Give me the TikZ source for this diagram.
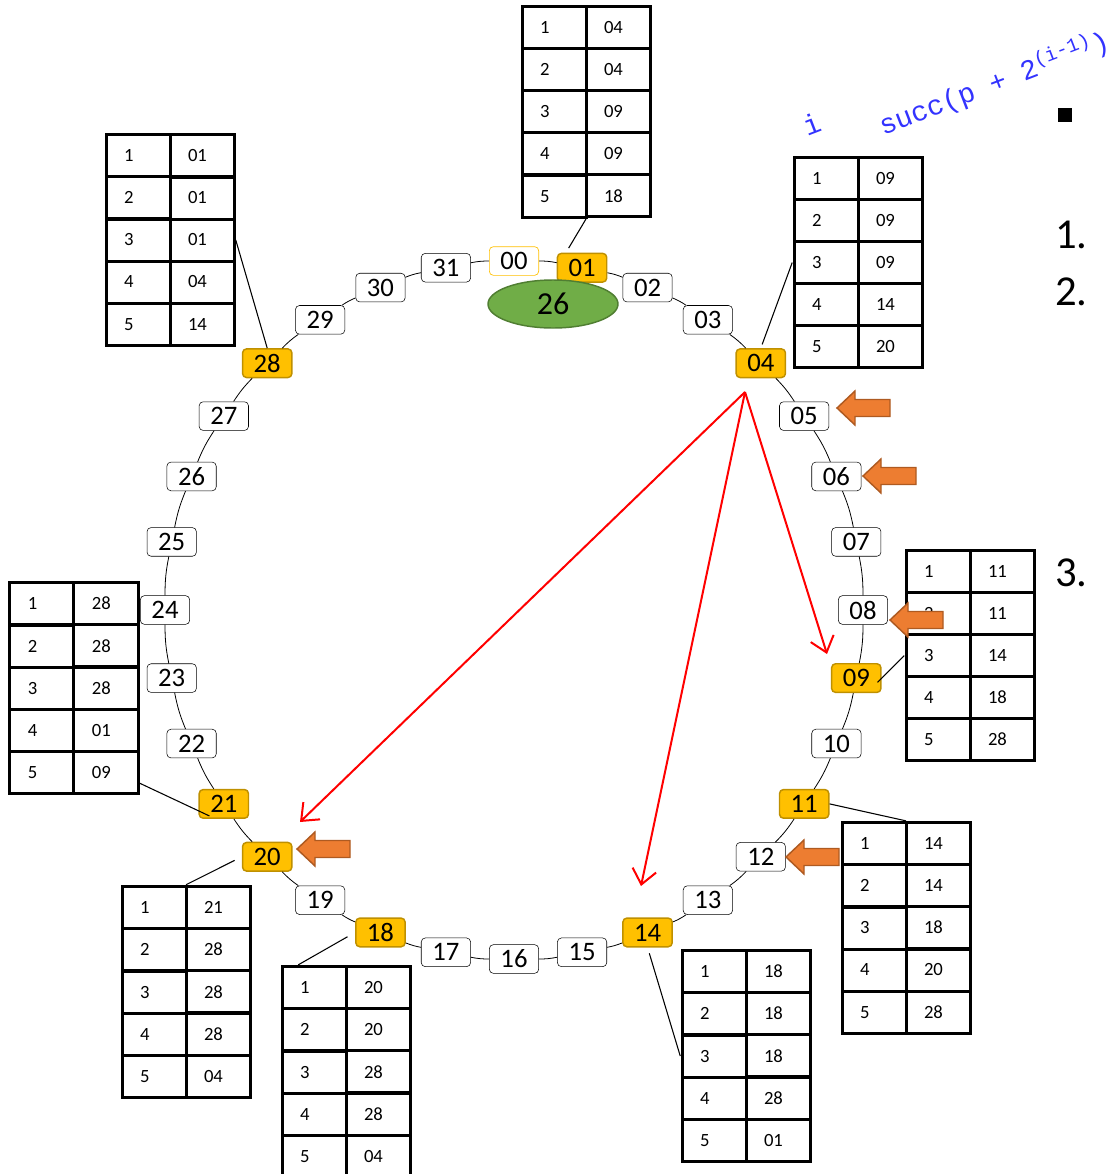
\documentclass[tikz,border=0pt]{standalone}
\usepackage{fontspec}
\setmainfont{Carlito}
\setmonofont{Liberation Mono}
\usetikzlibrary{matrix,calc,arrows.meta,shapes.geometric}

\definecolor{gold}{HTML}{FFC000}
\definecolor{golddark}{HTML}{BF9000}
\definecolor{leaf}{HTML}{70AD47}
\definecolor{leafdark}{HTML}{507E32}
\definecolor{hintfill}{HTML}{ED7D31}
\definecolor{hintdraw}{HTML}{AE5A21}
\definecolor{ink}{RGB}{51,51,255}

\tikzset{
	peer/.style={draw, fill=white, rounded corners=3pt, minimum width=37pt, minimum height=21.5pt,
		inner sep=1pt, font=\fontsize{20}{20}\selectfont},
	member/.style={peer, fill=gold, draw=golddark, line width=1.1pt},
	zero/.style={peer, draw=gold, line width=.5pt},
	% peers that hold a finger table
	id0/.style=zero, id1/.style=member, id4/.style=member, id9/.style=member,
	id11/.style=member, id14/.style=member, id18/.style=member, id20/.style=member,
	id21/.style=member, id28/.style=member,
	ring/.style={line width=.6pt},
	link/.style={line width=.8pt},
	cell/.style={draw, line width=2.25pt, fill=white, minimum height=31.5pt, text width=21pt,
		inner xsep=13.5pt, inner ysep=0pt, align=left, font=\fontsize{14}{14}\selectfont},
	ftab/.style={matrix of nodes, ampersand replacement=\&, inner sep=0pt,
		column sep=-2.25pt, row sep=-2.25pt, nodes={cell}},
	query/.style={red, line width=1.5pt, -{Straight Barb[length=11pt,width=18pt]}},
	hint/.style={fill=hintfill, draw=hintdraw, line width=1.1pt, line join=miter},
	pointer/.pic={\path[hint] (0,0) -- (18,-17) -- (18,-8.5) -- (53,-8.5) -- (53,8.5) -- (18,8.5) -- (18,17) -- cycle;},
	head/.style={rotate=21, anchor=base west, inner sep=0pt, text=ink, font=\ttfamily\fontsize{21}{21}\selectfont},
	item/.style={anchor=west, inner sep=0pt, font=\fontsize{32}{32}\selectfont},
}

% finger table: name, centre, successors for i = 1..5
\newcommand\fingertab[7]{\matrix[ftab] (#1) at (#2) {1 \& #3\\ 2 \& #4\\ 3 \& #5\\ 4 \& #6\\ 5 \& #7\\};}

\begin{document}
\begin{tikzpicture}[x=.75pt, y=-.75pt]
	\useasboundingbox (0,0) rectangle (1117,1174);

	% the identifier circle, 32 positions
	\begin{scope}[shift={(514,610)}]
		\foreach \i in {0,...,31}
			\node[peer, id\i/.try] (p\i) at ({11.25*\i-90}:349) {\ifnum\i<10 0\fi\i};
	\end{scope}
	\foreach \i in {0,...,31}{
		\pgfmathtruncatemacro\j{mod(\i+1,32)}
		\draw[ring] (p\i) to[bend left=5.6] (p\j);
	}

	\node[ellipse, fill=leaf, draw=leafdark, line width=1.1pt, minimum width=97.5pt, minimum height=36pt,
		font=\fontsize{24}{24}\selectfont] (key) at (553,304) {26};

	% finger tables
	\fingertab{t01}{586,112}{04}{04}{09}{09}{18}
	\fingertab{t04}{858,262.5}{09}{09}{09}{14}{20}
	\fingertab{t28}{170,240}{01}{01}{01}{04}{14}
	\fingertab{t09}{970,655.5}{11}{11}{14}{18}{28}
	\fingertab{t21}{74,688}{28}{28}{28}{01}{09}
	\fingertab{t11}{906,928}{14}{14}{18}{20}{28}
	\fingertab{t20}{186,992}{21}{28}{28}{28}{04}
	\fingertab{t18}{346,1072}{20}{20}{28}{28}{04}
	\fingertab{t14}{746,1056}{18}{18}{18}{28}{01}

	\draw[link, shorten <=4pt] (p1.137) -- (t01.south);
	\draw[link, shorten <=3pt] (p4.north) -- (t04.west);
	\draw[link] (t28.east) -- (p28.north);
	\draw[link, shorten >=-4.5pt] (t09.west) -- (p9.east);
	\draw[link] ($(t21.south east)+(0,-12)$) -- ($(p21.south west)+(11,-3)$);
	\draw[link] (p11.east) -- (t11.north);
	\draw[link, shorten >=6pt] (t20.north) -- (p20.west);
	\draw[link, shorten >=6.5pt] ($(t18.north west)+(18,0)$) -- (p18.west);
	\draw[link, shorten >=4.5pt] (t14.west) -- (p14.south);

	% lookup from 04
	\coordinate (src) at (745,392);
	\coordinate (q20) at (300,822);
	\coordinate (q14) at (641,886);
	\coordinate (q9) at (827,654);
	\draw[query] (src) -- (q20);
	\draw[query] (src) -- (q14);
	\draw[query] (src) -- (q9);

	\pic at (837,408) {pointer};
	\pic at (863,476) {pointer};
	\pic at (890,620) {pointer};
	\pic at (297,849) {pointer};
	\pic at (786,857) {pointer};

	% column heads
	\node[head] (idx) at (807,137) {i};
	\node[head] (succ) at (883,136) {succ(p + 2\textsuperscript{(i-1)})};

	\node[fill, minimum size=11pt, inner sep=0pt] (bullet) at (1065,115) {};
	\node[item] (item1) at (1055,235) {1.};
	\node[item] (item2) at (1055,292) {2.};
	\node[item] (item3) at (1055,573) {3.};
\end{tikzpicture}
\end{document}
